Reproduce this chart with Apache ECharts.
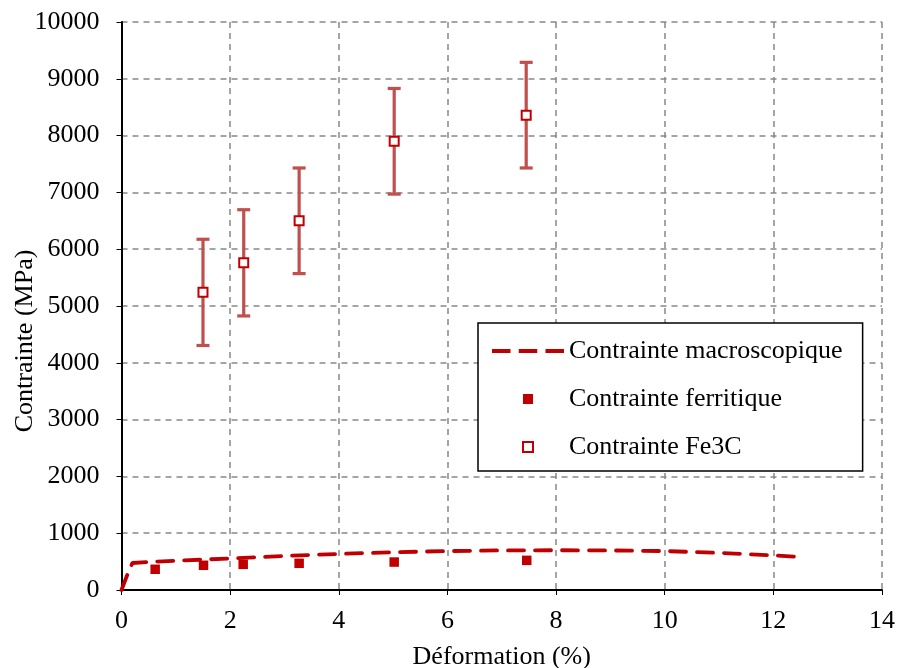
<!DOCTYPE html>
<html>
<head>
<meta charset="utf-8">
<script src="https://cdn.jsdelivr.net/npm/echarts@6/dist/echarts.min.js"></script>
<style>
html,body{margin:0;padding:0;background:#fff;}
#chart{width:900px;height:668px;}
</style>
</head>
<body>
<div id="chart"></div>
<script>
// Macroscopic stress curve
var macroX = [0, 0.1, 0.2, 0.5, 1, 1.5, 2, 3, 4, 5, 6, 7, 8, 9, 10, 11, 12, 12.4];
var macroY = [0, 250, 475, 495, 515, 535, 555, 600, 635, 665, 685, 697, 700, 697, 685, 655, 610, 585];
// Ferritic stress
var ferX = [0.62, 1.51, 2.24, 3.27, 5.02, 7.46];
var ferY = [365, 435, 452, 470, 492, 522];
// Fe3C stress with error
var fe3cX = [1.50, 2.25, 3.27, 5.02, 7.45];
var fe3cY = [5240, 5760, 6500, 7900, 8360];
var fe3cErr = [935, 935, 930, 930, 930];

var seriesNames = ['Contrainte macroscopique', 'Contrainte ferritique', 'Contrainte Fe3C'];
var xTicks = {min: 0, max: 14, interval: 2};
var yTicks = {min: 0, max: 10000, interval: 1000};

var FONT = 'Liberation Serif';
var chart = echarts.init(document.getElementById('chart'), null, {renderer: 'canvas'});

function plain(v){ return String(v); }

var ICON_DASH = 'path://M0,0h18v4h-18z M26,0h18v4h-18z M52,0h18v4h-18z';
var ICON_SQUARE = 'path://M0,0h10v10h-10z';

var option = {
  backgroundColor: '#fff',
  animation: false,
  grid: {left: 121.5, right: 18, top: 22, bottom: 78, containLabel: false, outerBoundsMode: 'none'},
  xAxis: {
    type: 'value', min: xTicks.min, max: xTicks.max, interval: xTicks.interval,
    name: 'Déformation (%)', nameLocation: 'middle', nameGap: 54, nameMoveOverlap: false,
    nameTextStyle: {fontFamily: FONT, fontSize: 26, color: '#000'},
    axisLine: {show: true, onZero: false, lineStyle: {color: '#000', width: 2}},
    axisTick: {show: true, inside: false, length: 5, lineStyle: {color: '#000', width: 1}},
    axisLabel: {fontFamily: FONT, fontSize: 26, color: '#000', margin: 18, formatter: plain},
    splitLine: {show: true, lineStyle: {color: '#888', width: 1.5, type: [6, 5]}}
  },
  yAxis: {
    type: 'value', min: yTicks.min, max: yTicks.max, interval: yTicks.interval,
    name: 'Contrainte (MPa)', nameLocation: 'middle', nameGap: 83, nameRotate: 90, nameMoveOverlap: false,
    nameTextStyle: {fontFamily: FONT, fontSize: 26, color: '#000', padding: [0, 70, 0, 0]},
    axisLine: {show: true, onZero: false, lineStyle: {color: '#000', width: 2}},
    axisTick: {show: true, inside: false, length: 5, lineStyle: {color: '#000', width: 1}},
    axisLabel: {fontFamily: FONT, fontSize: 26, color: '#000', margin: 22, formatter: plain},
    splitLine: {show: true, lineStyle: {color: '#888', width: 1.5, type: [6, 5]}}
  },
  legend: {
    data: [
      {name: seriesNames[0], icon: ICON_DASH, symbolKeepAspect: true,
       itemStyle: {color: '#C00000', borderWidth: 0}},
      {name: seriesNames[1], icon: ICON_SQUARE, symbolKeepAspect: true,
       itemStyle: {color: '#C00000', borderWidth: 0}},
      {name: seriesNames[2], icon: ICON_SQUARE, symbolKeepAspect: true,
       itemStyle: {color: '#fff', borderColor: '#C00000', borderWidth: 2}}
    ],
    symbolKeepAspect: true,
    orient: 'vertical',
    left: 478, top: 323,
    backgroundColor: '#fff',
    borderColor: '#000', borderWidth: 1.5, borderRadius: 0,
    padding: [15, 20, 11, 14],
    itemWidth: 72, itemHeight: 10, itemGap: 22,
    textStyle: {fontFamily: FONT, fontSize: 26, color: '#000'},
    selectedMode: false
  },
  series: [
    {
      name: seriesNames[0], type: 'line',
      data: macroX.map(function(x, i){ return [x, macroY[i]]; }),
      symbol: 'none', showSymbol: false, smooth: false,
      lineStyle: {color: '#C00000', width: 3.8, type: [16, 11], cap: 'round'},
      itemStyle: {color: '#C00000'},
      z: 3
    },
    {
      name: seriesNames[1], type: 'scatter',
      data: ferX.map(function(x, i){ return [x, ferY[i]]; }),
      symbol: 'rect', symbolSize: 9.5,
      itemStyle: {color: '#C00000', opacity: 1},
      z: 4
    },
    {
      name: 'errbar', type: 'custom',
      data: fe3cX.map(function(x, i){ return [x, fe3cY[i] - fe3cErr[i], fe3cY[i] + fe3cErr[i]]; }),
      renderItem: function(params, api){
        var x = api.value(0);
        var pLo = api.coord([x, api.value(1)]);
        var pHi = api.coord([x, api.value(2)]);
        var cap = 6.5;
        var st = {stroke: '#C0504D', lineWidth: 3.2};
        return {type: 'group', children: [
          {type: 'line', shape: {x1: pLo[0], y1: pLo[1], x2: pHi[0], y2: pHi[1]}, style: st},
          {type: 'line', shape: {x1: pLo[0]-cap, y1: pLo[1], x2: pLo[0]+cap, y2: pLo[1]}, style: st},
          {type: 'line', shape: {x1: pHi[0]-cap, y1: pHi[1], x2: pHi[0]+cap, y2: pHi[1]}, style: st}
        ]};
      },
      z: 5, silent: true
    },
    {
      name: seriesNames[2], type: 'scatter',
      data: fe3cX.map(function(x, i){ return [x, fe3cY[i]]; }),
      symbol: 'rect', symbolSize: 9,
      itemStyle: {color: '#fff', borderColor: '#C00000', borderWidth: 2, opacity: 1},
      z: 6
    }
  ]
};
chart.setOption(option);
</script>
</body>
</html>
